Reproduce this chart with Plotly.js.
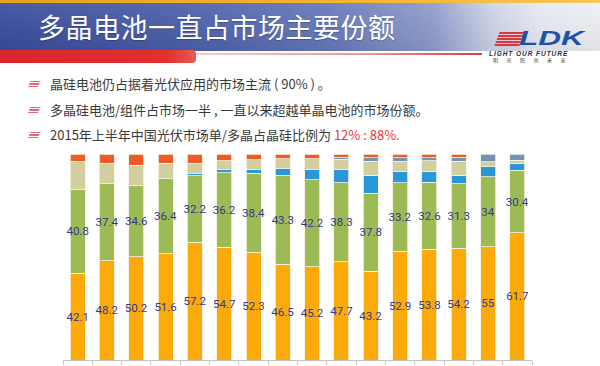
<!DOCTYPE html>
<html>
<head>
<meta charset="utf-8">
<script src="https://cdn.plot.ly/plotly-3.0.1.min.js"></script>
<style>
  html, body { margin:0; padding:0; width:600px; height:366px; overflow:hidden; background:#fff; }
  #slide { position:absolute; left:0; top:0; width:600px; height:366px; background:#fff; }
  .abs { position:absolute; }
  #gold { left:0; top:0; width:600px; height:3px; background:linear-gradient(to right,#E8A21C,#F2B632 60%,#F5C65A); }
  #band { left:0; top:3px; width:600px; height:48px;
          background:linear-gradient(to right,#3A4C9C 0%,#4A5DAA 30%,#6678BA 55%,#8E9BCB 72%,#CDD3E8 82%,#E7EAF3 90%,#EEF0F5 100%); }
  #band2 { left:0; top:3px; width:600px; height:48px; background:linear-gradient(to bottom,rgba(255,255,255,0.08),rgba(0,0,0,0.06)); }
  #redbar { left:0; top:50px; width:196px; height:13px; background:linear-gradient(to right,#D9262C,#E2302F 85%,#E85A50); border-radius:0 4px 4px 0; }
  #redline { left:190px; top:53px; width:292px; height:2px; background:linear-gradient(to right,rgba(230,120,120,0.35),rgba(220,80,80,0.6) 60%,#D94040); }
  #title { left:38px; top:8px; color:#fff; font-family:"Noto Sans CJK SC"; font-size:27px; line-height:38px; letter-spacing:0.5px; text-shadow:0 1px 1px rgba(0,0,0,0.25); white-space:nowrap; }
  .stripes { width:25px; height:14px; transform:skewX(-20deg);
     background:repeating-linear-gradient(to bottom,#E0353A 0px,#E0353A 1.6px,rgba(255,255,255,0) 1.6px,rgba(255,255,255,0) 3px); }
  #ldk { left:519px; top:25.5px; font-family:"Liberation Sans"; font-weight:bold; font-style:italic; font-size:21px; color:#1E52A8; line-height:24px; height:24px; transform-origin:left top; transform:scaleX(1.5); }
  #lof { left:489px; top:50px; font-family:"Liberation Sans"; font-weight:bold; font-style:italic; font-size:6.6px; line-height:7px; color:#2A2A3A; letter-spacing:0.9px; white-space:nowrap; }
  #lcn { left:493px; top:57px; font-family:"Noto Sans CJK SC"; font-size:5px; line-height:6px; color:#333; letter-spacing:8.5px; white-space:nowrap; }
  .bul { font-family:"Noto Sans CJK SC"; font-size:13px; color:#3A3A3A; white-space:nowrap; line-height:18px; }
  .icon { width:10px; height:7px; transform:skewX(-25deg);
     background:repeating-linear-gradient(to bottom,#E06A78 0px,#E06A78 1.2px,rgba(255,255,255,0) 1.2px,rgba(255,255,255,0) 2.4px); }
  #chart { position:absolute; left:0; top:0; width:600px; height:366px; }
</style>
</head>
<body>
<div id="slide">
  <div id="gold" class="abs"></div>
  <div id="band" class="abs"></div>
  <div id="band2" class="abs"></div>
  <div id="redbar" class="abs"></div>
  <div id="redline" class="abs"></div>
  <div id="title" class="abs">多晶电池一直占市场主要份额</div>
  <div class="abs stripes" style="left:497px; top:32px;"></div>
  <div id="ldk" class="abs">LDK</div>
  <div id="lof" class="abs">LIGHT OUR FUTURE</div>
  <div id="lcn" class="abs">阳光照亮未来</div>

  <div class="abs icon" style="left:29px; top:81px;"></div>
  <div class="abs bul" style="left:50px; top:75px;">晶硅电池仍占据着光伏应用的市场主流 ( 90% ) 。</div>
  <div class="abs icon" style="left:29px; top:107px;"></div>
  <div class="abs bul" style="left:50px; top:101px;">多晶硅电池/组件占市场一半 , 一直以来超越单晶电池的市场份额。</div>
  <div class="abs icon" style="left:29px; top:132px;"></div>
  <div class="abs bul" style="left:50px; top:126px;">2015年上半年中国光伏市场单/多晶占晶硅比例为 <span style="color:#E0393B">12% : 88%.</span></div>
</div>
<div id="chart"></div>
<script>
// categories (labels are not shown in the reference)
const categories = ['1','2','3','4','5','6','7','8','9','10','11','12','13','14','15','16'];
// series values (%), bottom to top
const orangeSeries = [42.1,48.2,50.2,51.6,57.2,54.7,52.3,46.5,45.2,47.7,43.2,52.9,53.8,54.2,55,61.7];
const greenSeries  = [40.8,37.4,34.6,36.4,32.2,36.2,38.4,43.3,42.2,38.3,37.8,33.2,32.6,31.3,34,30.4];
const blueSeries   = [null,null,null,null,1.0,1.5,2.0,3.0,5.0,6.3,8.6,5.5,5.2,4.3,4.7,3.4];
const tanSeries    = [13.5,10,9.8,7.6,5.2,4.3,4.5,4.9,5.4,5.2,6.8,4.8,5.2,6.6,2.5,1.5];
const steelSeries  = [null,null,null,null,null,null,null,null,null,1.0,1.8,1.8,1.5,2.0,3.8,3.0];
const redSeries    = [3.6,4.4,5.4,4.4,4.4,3.3,2.8,2.3,2.2,1.5,1.8,1.8,1.7,1.6,null,null];

const sep = {color:'#F6F3DE', width:0.8};
const labelFont = {family:'Roboto', size:11.5, color:'#34378F'};
function labelled(name, y, color) {
  return {type:'bar', name:name, x:categories, y:y, marker:{color:color, line:sep},
    text:y.map(v => String(v)), textposition:'inside', insidetextanchor:'middle',
    textangle:0, constraintext:'none', textfont:labelFont, hoverinfo:'skip'};
}
function plain(name, y, color) {
  return {type:'bar', name:name, x:categories, y:y, marker:{color:color, line:sep}, hoverinfo:'skip'};
}
const data = [
  labelled('orange', orangeSeries, '#FBAA0A'),
  labelled('green', greenSeries, '#9DBB55'),
  plain('blue', blueSeries, '#2A98D8'),
  plain('tan', tanSeries, '#D2CE9E'),
  plain('steel', steelSeries, '#6F94B8'),
  plain('red', redSeries, '#EE5A28')
];
const layout = {
  width:600, height:366,
  margin:{l:63, r:68, t:154, b:6, pad:0},
  barmode:'stack', bargap:0.49,
  showlegend:false,
  paper_bgcolor:'rgba(0,0,0,0)', plot_bgcolor:'rgba(0,0,0,0)',
  xaxis:{type:'category', showline:true, linecolor:'#C4C4C4', linewidth:1,
         ticks:'outside', tickson:'boundaries', ticklen:4, tickcolor:'#C4C4C4',
         showticklabels:false, showgrid:false, zeroline:false, fixedrange:true},
  yaxis:{range:[0,100], visible:false, fixedrange:true}
};
Plotly.newPlot('chart', data, layout, {staticPlot:true, displayModeBar:false});
</script>
</body>
</html>
